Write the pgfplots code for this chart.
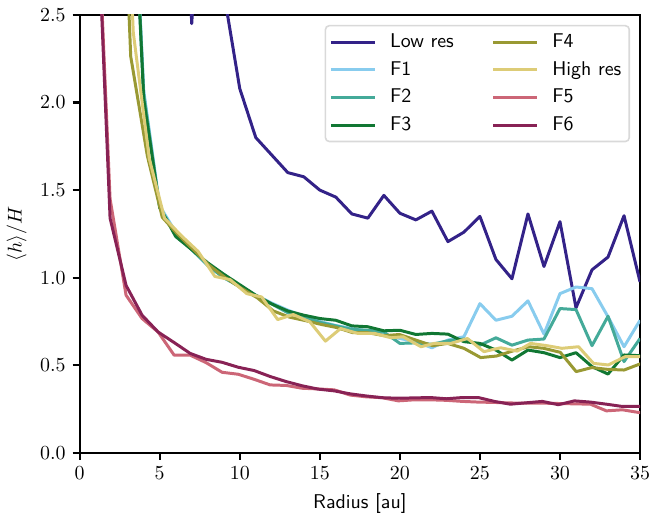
\documentclass[border=0pt]{standalone}
\usepackage{pgfplots}
\pgfplotsset{compat=1.18}
\definecolor{clow}{HTML}{332288}
\definecolor{cfa}{HTML}{88CCEE}
\definecolor{cfb}{HTML}{44AA99}
\definecolor{cfc}{HTML}{117733}
\definecolor{cfd}{HTML}{999933}
\definecolor{chigh}{HTML}{DDCC77}
\definecolor{cfe}{HTML}{CC6677}
\definecolor{cff}{HTML}{882255}
\begin{document}
\begin{tikzpicture}
\begin{axis}[name=ax, scale only axis, width=281.5pt, height=220pt,
  xmin=0, xmax=35, ymin=0, ymax=2.5,
  xtick={0,5,...,35}, ytick={0,0.5,1,1.5,2,2.5},
  yticklabel style={/pgf/number format/.cd,fixed,fixed zerofill,precision=1},
  xticklabel style={inner xsep=0pt},
  tick align=outside, tick pos=left, major tick length=3.5pt,
  every tick/.style={black, line width=1.1pt},
  axis line style={line width=1.1pt},
  xlabel={\sffamily Radius [au]}, ylabel={$\langle h\rangle/H$},
  every axis plot/.append style={line width=1.5pt, line join=round},
  legend columns=2, legend cell align=left,
  legend image code/.code={\draw[#1] (0pt,0pt) -- (22pt,0pt);},
  legend style={at={(1,1)}, anchor=north east, xshift=-5pt, yshift=-5pt,
    draw=black!15, line width=0.8pt, rounded corners=2pt, fill=white, fill opacity=0.8, text opacity=1,
    font=\sffamily, inner xsep=2pt, inner ysep=2pt,
    /tikz/every odd column/.append style={column sep=5pt},
    /tikz/every even column/.append style={column sep=17pt},
    row sep=1.5pt},
]
% Low res
\addplot[clow, forget plot] coordinates {(1,12)(2,10)(3,8)(4,6)(5,5)(6,4.5)(7,2.45)(8,4.0)(9,2.63)(10,2.08)(11,1.80)(12,1.70)(13,1.60)(14,1.576)(15,1.50)(16,1.46)(17,1.364)(18,1.34)(19,1.47)(20,1.368)(21,1.33)(22,1.38)(23,1.206)(24,1.26)(25,1.35)(26,1.104)(27,0.994)(28,1.364)(29,1.064)(30,1.32)(31,0.828)(32,1.045)(33,1.118)(34,1.354)(35,0.976)};
% F1
\addplot[cfa, forget plot] coordinates {(3,4.0)(4,2.07)(5,1.41)(6,1.26)(7,1.165)(8,1.075)(9,1.0)(10,0.95)(11,0.90)(12,0.855)(13,0.815)(14,0.78)(15,0.75)(16,0.727)(17,0.71)(18,0.695)(19,0.672)(20,0.653)(21,0.635)(22,0.60)(23,0.644)(24,0.663)(25,0.852)(26,0.757)(27,0.78)(28,0.868)(29,0.678)(30,0.909)(31,0.947)(32,0.9375)(33,0.777)(34,0.606)(35,0.757)};
% F2
\addplot[cfb, forget plot] coordinates {(3,4.0)(4,2.05)(5,1.40)(6,1.25)(7,1.16)(8,1.07)(9,1.0)(10,0.95)(11,0.895)(12,0.85)(13,0.80)(14,0.775)(15,0.745)(16,0.725)(17,0.705)(18,0.70)(19,0.69)(20,0.625)(21,0.628)(22,0.62)(23,0.64)(24,0.65)(25,0.615)(26,0.657)(27,0.615)(28,0.644)(29,0.65)(30,0.824)(31,0.818)(32,0.612)(33,0.78)(34,0.521)(35,0.653)};
% F3
\addplot[cfc, forget plot] coordinates {(3,4.0)(4,2.02)(5,1.40)(6,1.235)(7,1.16)(8,1.085)(9,1.02)(10,0.96)(11,0.90)(12,0.85)(13,0.81)(14,0.786)(15,0.767)(16,0.757)(17,0.725)(18,0.72)(19,0.697)(20,0.70)(21,0.676)(22,0.682)(23,0.678)(24,0.635)(25,0.625)(26,0.587)(27,0.53)(28,0.587)(29,0.572)(30,0.544)(31,0.572)(32,0.4925)(33,0.45)(34,0.559)(35,0.555)};
% F4
\addplot[cfd, forget plot] coordinates {(2.2,4.5)(3.19,2.263)(4.23,1.695)(5.16,1.345)(6.1,1.25)(7.1,1.16)(8.1,1.07)(9.1,1.0)(10.1,0.94)(11.1,0.885)(12.1,0.81)(13.1,0.775)(14.1,0.755)(15.1,0.733)(16.03,0.716)(17.07,0.686)(18,0.686)(19.04,0.669)(19.97,0.676)(21,0.644)(22.04,0.612)(22.98,0.625)(24,0.597)(25.05,0.544)(26.04,0.553)(27.02,0.581)(28.05,0.606)(28.98,0.597)(30.02,0.574)(31.01,0.464)(31.99,0.487)(32.96,0.477)(34,0.473)(34.95,0.506)(35.5,0.52)};
% High res
\addplot[chigh, forget plot] coordinates {(2.35,4.5)(3.35,2.40)(4.35,1.68)(5.3,1.34)(6.35,1.24)(7.4,1.15)(8.45,1.007)(9.4,0.989)(10.44,0.909)(11.37,0.89)(12.37,0.761)(13.34,0.79)(14.38,0.748)(15.35,0.638)(16.3,0.71)(17.38,0.682)(18.42,0.682)(19.45,0.657)(20.2,0.663)(21.32,0.606)(22.14,0.625)(23.18,0.625)(24.22,0.653)(25.25,0.578)(26.29,0.60)(27.33,0.581)(28.16,0.625)(29.19,0.612)(30.12,0.597)(31.16,0.606)(32.09,0.511)(33.02,0.502)(34.06,0.549)(35.06,0.549)};
% F5
\addplot[cfe, forget plot] coordinates {(0.9,3.6)(1.9,1.45)(2.9,0.90)(3.9,0.767)(4.9,0.69)(5.9,0.558)(6.9,0.558)(7.9,0.515)(8.9,0.46)(9.9,0.449)(10.9,0.42)(11.9,0.388)(12.9,0.385)(13.9,0.369)(14.9,0.365)(15.9,0.36)(16.9,0.33)(17.9,0.32)(18.9,0.315)(19.9,0.297)(20.9,0.303)(21.9,0.303)(22.9,0.30)(23.9,0.294)(24.9,0.29)(25.9,0.288)(26.9,0.285)(27.9,0.284)(28.9,0.284)(29.9,0.282)(30.9,0.28)(31.9,0.278)(32.9,0.24)(33.9,0.246)(34.9,0.231)(35.9,0.225)};
% F6
\addplot[cff, forget plot] coordinates {(0.9,3.57)(1.9,1.34)(2.9,0.956)(3.9,0.786)(4.9,0.69)(5.9,0.63)(6.9,0.568)(7.9,0.534)(8.9,0.517)(9.9,0.489)(10.9,0.47)(11.9,0.436)(12.9,0.407)(13.9,0.383)(14.9,0.364)(15.9,0.354)(16.9,0.337)(17.9,0.325)(18.9,0.315)(19.9,0.312)(20.9,0.314)(21.9,0.316)(22.9,0.309)(23.9,0.316)(24.9,0.316)(25.9,0.294)(26.9,0.278)(27.9,0.286)(28.9,0.294)(29.9,0.275)(30.9,0.297)(31.9,0.29)(32.9,0.278)(33.9,0.265)(34.9,0.265)(35.9,0.265)};
% legend (column-major order)
\addlegendimage{clow, line width=1.5pt}\addlegendentry{Low res}
\addlegendimage{cfd, line width=1.5pt}\addlegendentry{F4}
\addlegendimage{cfa, line width=1.5pt}\addlegendentry{F1}
\addlegendimage{chigh, line width=1.5pt}\addlegendentry{High res}
\addlegendimage{cfb, line width=1.5pt}\addlegendentry{F2}
\addlegendimage{cfe, line width=1.5pt}\addlegendentry{F5}
\addlegendimage{cfc, line width=1.5pt}\addlegendentry{F3}
\addlegendimage{cff, line width=1.5pt}\addlegendentry{F6}
\end{axis}
\path ([shift={(-38.5pt,-30pt)}]ax.south west) rectangle ([shift={(5pt,7.5pt)}]ax.north east);
\end{tikzpicture}
\end{document}
